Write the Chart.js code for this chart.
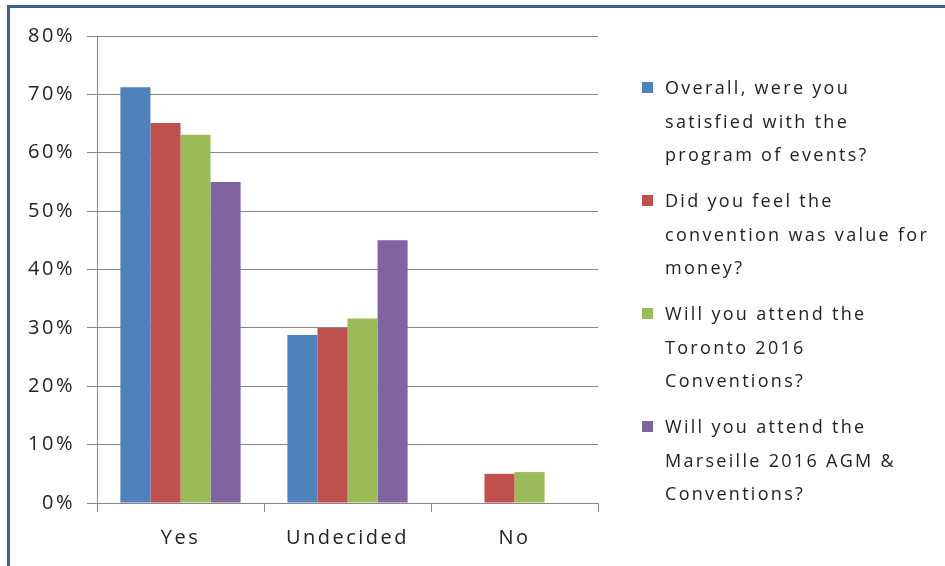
<!DOCTYPE html>
<html>
<head>
<meta charset="utf-8">
<title>Convention survey</title>
<script src="https://cdn.jsdelivr.net/npm/chart.js@4.4.1/dist/chart.umd.min.js"></script>
<style>
    html, body {
        margin: 0;
        padding: 0;
        background: #fff;
        overflow: hidden;
    }
    .wrap {
        position: relative;
        width: 945px;
        height: 566px;
    }
    .frame {
        position: absolute;
        left: 7px;
        top: 5px;
        right: -10px;
        bottom: -10px;
        border-top: 3px solid #3f5f95;
        border-left: 3px solid #3f5f95;
        pointer-events: none;
    }
    #chart {
        position: absolute;
        left: 0;
        top: 0;
    }
    #legend {
        position: absolute;
        left: 642px;
        top: 71px;
        margin: 0;
        padding: 0;
        list-style: none;
        font-family: 'Open Sans', sans-serif;
        font-size: 18px;
        line-height: 33.5px;
        letter-spacing: 2.3px;
        color: #222;
    }
    #legend li {
        display: flex;
        align-items: flex-start;
        margin-bottom: 12.5px;
    }
    #legend .box {
        flex: none;
        width: 11px;
        height: 11px;
        margin-top: 11px;
        margin-right: 12px;
    }
</style>
</head>
<body>
<div class="wrap">
    <canvas id="chart" width="945" height="566"></canvas>
    <ul id="legend"></ul>
    <div class="frame"></div>
</div>
<script>
// Survey answers per question, in percent
const categories = ['Yes', 'Undecided', 'No'];
const satisfiedProgram = [71.2, 28.8, 0];
const valueForMoney = [65.1, 30.0, 5.0];
const attendToronto = [63.1, 31.6, 5.3];
const attendMarseille = [55.0, 45.0, 0];

const yTickLabels = ['0%', '10%', '20%', '30%', '40%', '50%', '60%', '70%', '80%'];

// Legend text, one entry per printed line
const questionLines = [
    ['Overall, were you', 'satisfied with the', 'program of events?'],
    ['Did you feel the', 'convention was value for', 'money?'],
    ['Will you attend the', 'Toronto 2016', 'Conventions?'],
    ['Will you attend the', 'Marseille 2016 AGM &', 'Conventions?']
];

const seriesColors = ['#4f81bd', '#c0504d', '#9bbb59', '#8064a2'];
const gridColor = '#868686';

Chart.defaults.font.family = "'Open Sans', sans-serif";
Chart.defaults.font.size = 20;
Chart.defaults.color = '#222';

// Canvas text gets the same loose spacing as the legend
const spacing = {
    id: 'spacing',
    beforeUpdate(chart) { chart.ctx.letterSpacing = '2.5px'; },
    beforeDraw(chart) { chart.ctx.letterSpacing = '2.5px'; }
};

// Legend as a plain list next to the canvas
const htmlLegend = {
    id: 'htmlLegend',
    afterUpdate(chart) {
        const list = document.getElementById('legend');
        list.innerHTML = '';
        chart.data.datasets.forEach(ds => {
            const li = document.createElement('li');
            const box = document.createElement('span');
            box.className = 'box';
            box.style.background = ds.backgroundColor;
            const text = document.createElement('span');
            text.innerHTML = ds.lines.join('<br>');
            li.appendChild(box);
            li.appendChild(text);
            list.appendChild(li);
        });
    }
};

const series = [satisfiedProgram, valueForMoney, attendToronto, attendMarseille];

new Chart(document.getElementById('chart'), {
    type: 'bar',
    data: {
        labels: categories,
        datasets: series.map((values, i) => ({
            label: questionLines[i].join(' '),
            lines: questionLines[i],
            data: values,
            backgroundColor: seriesColors[i],
            borderWidth: 0
        }))
    },
    options: {
        responsive: false,
        animation: false,
        layout: {
            padding: { top: 36, right: 347, bottom: 0, left: 0 }
        },
        datasets: {
            bar: {
                categoryPercentage: 0.72,
                barPercentage: 1
            }
        },
        plugins: {
            legend: { display: false },
            tooltip: { enabled: false }
        },
        scales: {
            x: {
                grid: {
                    offset: true,
                    drawOnChartArea: false,
                    drawTicks: true,
                    tickLength: 9,
                    color: gridColor
                },
                border: { display: true, color: gridColor },
                ticks: { padding: 14 },
                afterFit(scale) { scale.height = 63; }
            },
            y: {
                min: 0,
                max: 80,
                ticks: {
                    stepSize: 10,
                    padding: 12,
                    callback: (v, idx) => yTickLabels[idx]
                },
                grid: {
                    color: gridColor,
                    tickLength: 10
                },
                border: { display: true, color: gridColor },
                afterFit(scale) { scale.width = 97; }
            }
        }
    },
    plugins: [spacing, htmlLegend]
});
</script>
</body>
</html>
